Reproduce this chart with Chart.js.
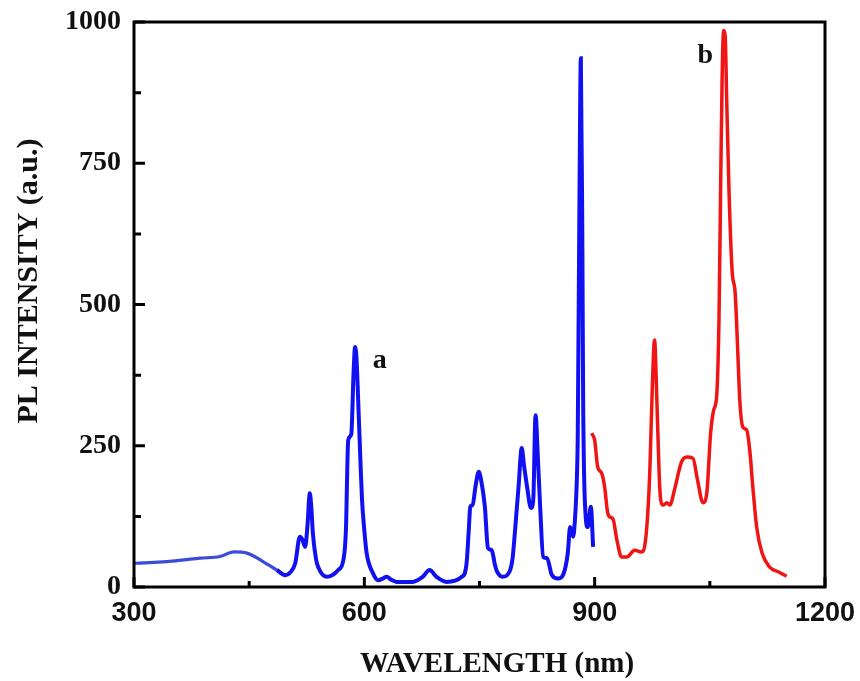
<!DOCTYPE html>
<html>
<head>
<meta charset="utf-8">
<script src="https://cdn.jsdelivr.net/npm/chart.js@4"></script>
<style>
  html, body { margin: 0; padding: 0; background: #fff; }
  #wrap { width: 860px; height: 681px; }
</style>
</head>
<body>
<div id="wrap"><canvas id="plChart"></canvas></div>
<script>
// --- data ---
const blueX = [300, 320, 343, 365, 386, 412, 430, 447, 468, 486, 497, 503, 510, 516, 519, 523, 526, 529, 531, 533, 537, 540, 551, 566, 573, 576, 579, 583, 586, 588, 590, 592, 595, 597, 600, 603, 611, 618, 624, 629, 635, 642, 663, 676, 685, 694, 707, 727, 733, 736, 738, 741, 745, 749, 752, 757, 761, 766, 770, 773, 780, 789, 793, 796, 801, 805, 808, 812, 817, 820, 823, 826, 829, 833, 838, 844, 852, 859, 865, 868, 872, 874, 877, 878, 880, 882, 884, 885, 888, 891, 895, 898];
const blueY = [42, 43, 45, 48, 51, 54, 62, 60, 45, 30, 21, 25, 42, 89, 85, 71, 110, 166, 140, 95, 50, 35, 18, 30, 50, 100, 260, 270, 380, 425, 400, 330, 220, 154, 100, 60, 25, 12, 15, 18, 13, 9, 9, 18, 30, 18, 9, 18, 40, 100, 142, 145, 180, 204, 190, 142, 69, 65, 40, 27, 18, 27, 50, 95, 180, 246, 215, 177, 140, 154, 304, 230, 142, 53, 51, 22, 15, 22, 60, 106, 89, 113, 200, 272, 650, 936, 600, 331, 131, 106, 142, 71];

const redX = [896, 900, 904, 909, 913, 917, 921, 924, 929, 935, 942, 952, 961, 966, 970, 972, 975, 978, 981, 984, 986, 989, 994, 998, 1004, 1013, 1020, 1028, 1034, 1041, 1046, 1051, 1055, 1059, 1062, 1064, 1066, 1068, 1070, 1072, 1075, 1079, 1083, 1086, 1089, 1093, 1098, 1102, 1106, 1111, 1118, 1128, 1139, 1150];
const redY = [272, 260, 212, 202, 177, 131, 123, 120, 83, 53, 53, 65, 62, 80, 150, 212, 350, 437, 331, 200, 154, 145, 149, 145, 172, 221, 230, 228, 189, 149, 166, 272, 313, 340, 480, 700, 900, 985, 975, 860, 700, 560, 520, 430, 331, 283, 278, 242, 177, 106, 60, 35, 27, 19];

const xTicks = [300, 600, 900, 1200];
const xMinor = [450, 750, 1050];
const yTicks = [0, 250, 500, 750, 1000];
const yMinor = [125, 375, 625, 875];

const curveLabels = [
  { text: 'a', x: 611, y: 388 },
  { text: 'b', x: 1034, y: 927 }
];

const xTitle = 'WAVELENGTH (nm)';
const yTitle = 'PL INTENSITY (a.u.)';

function toPoints(xs, ys) {
  return xs.map((x, i) => ({ x: x, y: ys[i] }));
}

// --- frame, inward ticks, titles and curve labels ---
const framePlugin = {
  id: 'frame',
  afterDraw(chart) {
    const c = chart.ctx;
    const a = chart.chartArea;
    const xs = chart.scales.x;
    const ys = chart.scales.y;
    c.save();
    c.strokeStyle = '#000';
    c.lineWidth = 3;
    c.strokeRect(a.left, a.top, a.right - a.left, a.bottom - a.top);

    c.beginPath();
    xTicks.forEach(v => { const p = xs.getPixelForValue(v); c.moveTo(p, a.bottom); c.lineTo(p, a.bottom - 10); });
    xMinor.forEach(v => { const p = xs.getPixelForValue(v); c.moveTo(p, a.bottom); c.lineTo(p, a.bottom - 6); });
    yTicks.forEach(v => { const p = ys.getPixelForValue(v); c.moveTo(a.left, p); c.lineTo(a.left + 11, p); });
    yMinor.forEach(v => { const p = ys.getPixelForValue(v); c.moveTo(a.left, p); c.lineTo(a.left + 7, p); });
    c.stroke();

    c.fillStyle = '#111';
    c.font = 'bold 28px "Liberation Serif", "Times New Roman", serif';
    c.textAlign = 'left';
    c.textBaseline = 'alphabetic';
    curveLabels.forEach(l => {
      c.fillText(l.text, xs.getPixelForValue(l.x), ys.getPixelForValue(l.y));
    });

    // axis titles
    c.textAlign = 'center';
    c.textBaseline = 'middle';
    c.font = 'bold 29px "Liberation Serif", "Times New Roman", serif';
    c.fillText(xTitle, 497, 665);

    c.save();
    c.translate(29, 281);
    c.rotate(-Math.PI / 2);
    c.font = 'bold 30px "Liberation Serif", "Times New Roman", serif';
    c.fillText(yTitle, 0, 0);
    c.restore();

    c.restore();
  }
};

const ctx = document.getElementById('plChart').getContext('2d');

const plChart = new Chart(ctx, {
  type: 'scatter',
  data: {
    datasets: [
      {
        label: 'a',
        data: toPoints(blueX, blueY),
        showLine: true,
        borderColor: '#1010f0',
        borderWidth: 4,
        pointRadius: 0,
        cubicInterpolationMode: 'monotone',
        segment: {
          borderColor: s => s.p0.parsed.x < 480 ? '#3a4cd8' : undefined,
          borderWidth: s => s.p0.parsed.x < 480 ? 3.2 : undefined
        }
      },
      {
        label: 'b',
        data: toPoints(redX, redY),
        showLine: true,
        borderColor: '#f01414',
        borderWidth: 3.5,
        pointRadius: 0,
        cubicInterpolationMode: 'monotone'
      }
    ]
  },
  options: {
    responsive: true,
    maintainAspectRatio: false,
    animation: false,
    layout: { padding: { left: 0, top: 22, right: 35, bottom: 0 } },
    plugins: {
      legend: { display: false },
      tooltip: { enabled: false }
    },
    scales: {
      x: {
        type: 'linear',
        min: 300,
        max: 1200,
        afterFit: s => { s.height = 94; s.paddingLeft = 0; s.paddingRight = 0; },
        afterBuildTicks: s => { s.ticks = xTicks.map(v => ({ value: v })); },
        grid: { display: false, drawTicks: false },
        border: { display: false },
        ticks: {
          padding: 10,
          color: '#111',
          callback: v => String(v),
          font: { family: '"Liberation Sans", Arial, sans-serif', size: 27, weight: 'bold' }
        }
      },
      y: {
        min: 0,
        max: 1000,
        afterFit: s => { s.width = 134; s.paddingTop = 0; s.paddingBottom = 0; },
        afterBuildTicks: s => { s.ticks = yTicks.map(v => ({ value: v })); },
        grid: { display: false, drawTicks: false },
        border: { display: false },
        ticks: {
          padding: 13,
          color: '#111',
          callback: v => String(v),
          font: { family: '"Liberation Serif", "Times New Roman", serif', size: 28, weight: 'bold' }
        }
      }
    }
  },
  plugins: [framePlugin]
});
</script>
</body>
</html>
